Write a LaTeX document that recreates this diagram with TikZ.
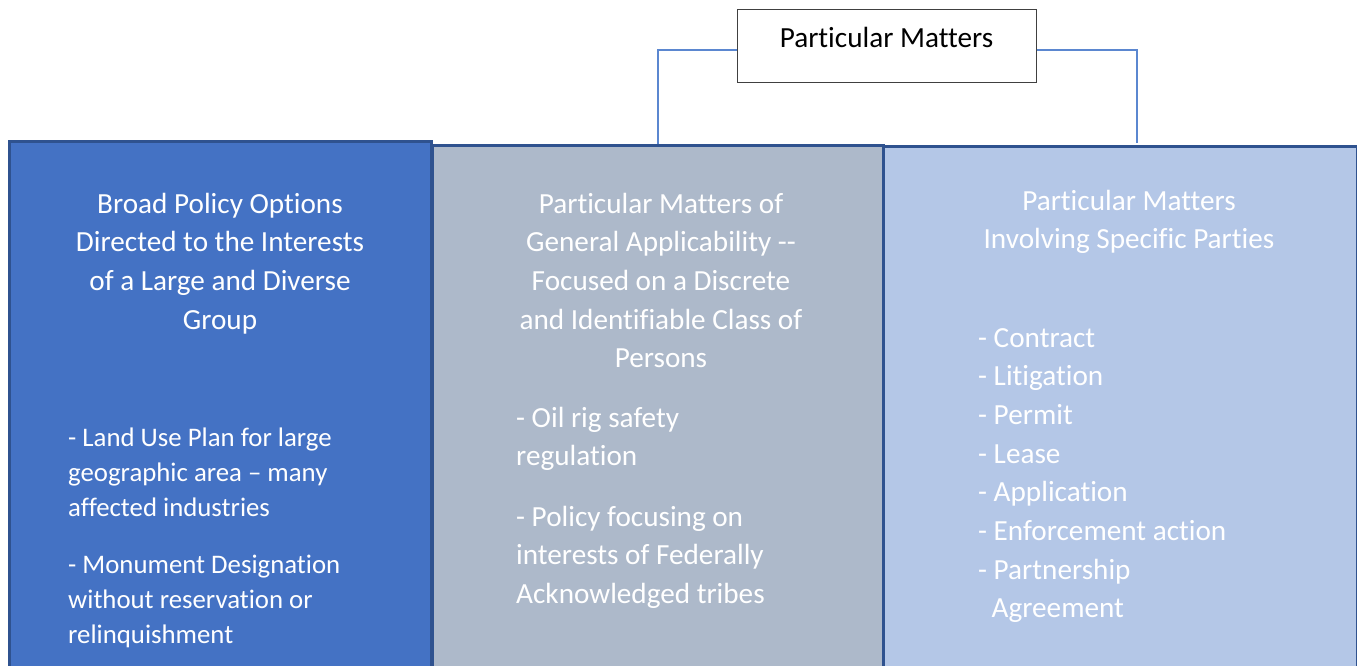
\documentclass[tikz,border=0pt]{standalone}
\usepackage{fontspec}
\setmainfont{Carlito}[Ligatures={TeX,NoCommon}]
\definecolor{broadfill}{HTML}{4472C4}
\definecolor{genfill}{HTML}{ADB9CA}
\definecolor{specfill}{HTML}{B4C7E7}
\definecolor{colborder}{HTML}{2F528F}
\definecolor{connblue}{HTML}{5B87D0}
\definecolor{topborder}{HTML}{404040}
\newcommand\colhead[1]{\parbox[t]{440pt}{\centering #1}}
\newcommand\leftpar[1]{\parbox[t]{340pt}{\raggedright #1}}
\begin{document}
\begin{tikzpicture}[x=1pt,y=-1pt,
  column/.style={draw=colborder, line width=3pt, rectangle, anchor=north west,
                 inner sep=0pt, minimum height=560pt},
  topbox/.style={draw=topborder, fill=white, line width=1pt, rectangle,
                 minimum width=299pt, minimum height=73pt, inner sep=0pt,
                 text height=20pt, text depth=17pt,
                 font=\fontsize{29.2}{38.7}\selectfont},
  conn/.style={draw=connblue, line width=1.3pt},
  head/.style={anchor=base, inner sep=0pt, text=white,
               font=\fontsize{29.2}{38.7}\selectfont},
  item/.style={anchor=base west, inner sep=0pt, text=white,
               font=\fontsize{29.2}{38.7}\selectfont},
  smallitem/.style={anchor=base west, inner sep=0pt, text=white,
               font=\fontsize{26.8}{35}\selectfont}]
\useasboundingbox (0,0) rectangle (1357,666);
\clip (0,0) rectangle (1357,666);

% three columns
\node[column, fill=broadfill, minimum width=422pt] (broad) at (8,140) {};
\node[column, fill=genfill, minimum width=451pt] (gen) at (431,144) {};
\node[column, fill=specfill, minimum width=474pt] (spec) at (882,145) {};

% top box and its connectors
\node[topbox] (top) at (886.5,46.5) {Particular Matters};
\coordinate (specjoin) at (1137,143.5);
\draw[conn] ([yshift=-3.5pt]top.west) -| (gen.north);
\draw[conn] ([yshift=-3.5pt]top.east) -| (specjoin);

% column headings
\node[head] (broadhead) at (220,213) {\colhead{Broad Policy Options\\Directed to the Interests\\of a Large and Diverse\\Group}};
\node[head] (genhead) at (661,213) {\colhead{Particular Matters of\\General Applicability -{}-\\Focused on a Discrete\\and Identifiable Class of\\Persons}};
\node[head] (spechead) at (1129,210) {\colhead{Particular Matters\\Involving Specific Parties}};

% examples, left column
\node[smallitem] (landuse) at (68,446) {\leftpar{- Land Use Plan for large\\geographic area – many\\affected industries}};
\node[smallitem] (monument) at (68,573) {\leftpar{- Monument Designation\\without reservation or\\relinquishment}};

% examples, middle column
\node[item] (oilrig) at (516,427) {\leftpar{- Oil rig safety\\regulation}};
\node[item] (tribes) at (516,526) {\leftpar{- Policy focusing on\\interests of Federally\\Acknowledged tribes}};

% examples, right column
\node[item] (speclist) at (978,347) {\leftpar{- Contract\\- Litigation\\- Permit\\- Lease\\- Application\\- Enforcement action\\- Partnership\\\hspace*{13.5pt}Agreement}};
\end{tikzpicture}
\end{document}
